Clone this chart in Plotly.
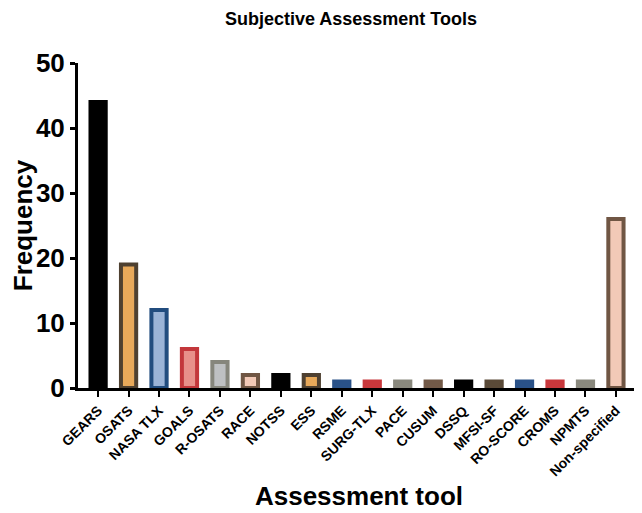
import plotly.graph_objects as go

categories = ["GEARS", "OSATS", "NASA TLX", "GOALS", "R-OSATS", "RACE", "NOTSS", "ESS",
              "RSME", "SURG-TLX", "PACE", "CUSUM", "DSSQ", "MFSI-SF", "RO-SCORE",
              "CROMS", "NPMTS", "Non-specified"]
frequency = [44, 19, 12, 6, 4, 2, 2, 2, 1, 1, 1, 1, 1, 1, 1, 1, 1, 26]
fill_colors = ["#000000", "#E8A95A", "#9AB3D6", "#E8908A", "#BEC0C2", "#F2C9B7", "#000000", "#E8A95A",
               "#2A5288", "#C8383C", "#8A897E", "#735A48", "#000000", "#5A4A38", "#2A5288",
               "#C8383C", "#8A897E", "#F2C9B7"]
line_colors = ["#000000", "#4E4030", "#214C7E", "#C3373B", "#86867C", "#705644", "#000000", "#4E4030",
               "#2A5288", "#C8383C", "#8A897E", "#735A48", "#000000", "#5A4A38", "#2A5288",
               "#C8383C", "#8A897E", "#705644"]
y_ticks = [0, 10, 20, 30, 40, 50]

x = list(range(len(categories)))

fig = go.Figure(go.Bar(
    x=x, y=frequency, width=0.5,
    marker=dict(color=fill_colors, line=dict(color=line_colors, width=4)),
))

# the page body adds an 8px margin, so the figure is 8px smaller than the window
font_family = "Liberation Sans, Arial, sans-serif"
fig.update_layout(
    width=634, height=505,
    margin=dict(l=70, r=2, t=55, b=125, autoexpand=False),
    plot_bgcolor="white", paper_bgcolor="white",
    showlegend=False,
    title=dict(text="<b>Subjective Assessment Tools</b>", x=0.541, xanchor="center",
               y=0.978, yanchor="middle",
               font=dict(family=font_family, size=18, color="black")),
    font=dict(family=font_family, color="black"),
)
fig.update_xaxes(
    tickmode="array", tickvals=x, ticktext=["<b>%s</b>" % c for c in categories],
    tickangle=-45, range=[-0.66, 17.79], automargin=False,
    showline=True, linecolor="black", linewidth=3,
    ticks="outside", ticklen=6, tickwidth=2, tickcolor="black",
    tickfont=dict(size=14, family=font_family, color="black"),
    showgrid=False, zeroline=False,
    title=dict(text="<b>Assessment tool</b>", font=dict(size=26, family=font_family), standoff=9),
)
fig.update_yaxes(
    range=[0, 50], tickvals=y_ticks, ticktext=["<b>%d</b>" % v for v in y_ticks],
    automargin=False,
    showline=True, linecolor="black", linewidth=3,
    ticks="outside", ticklen=5, tickwidth=3, tickcolor="black",
    tickfont=dict(size=26, family=font_family, color="black"),
    showgrid=False, zeroline=False,
    title=dict(text="<b>Frequency</b>", font=dict(size=26, family=font_family), standoff=0),
)

fig.write_html("out.html")
